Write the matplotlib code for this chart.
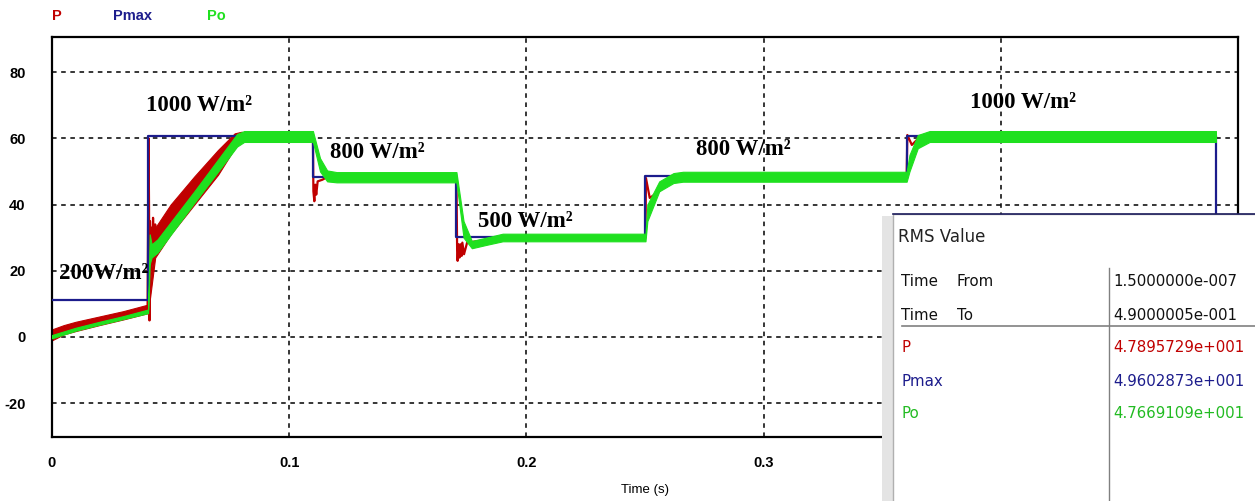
import matplotlib.pyplot as plt
from matplotlib.patches import Rectangle
from matplotlib.lines import Line2D

plt.rcParams["axes.unicode_minus"] = False

# ---- data ----
# Pmax (available max power), step profile
pmax_t = [0, 0.0405, 0.0405, 0.110, 0.110, 0.1705, 0.1705, 0.2502, 0.2502,
          0.3603, 0.3603, 0.4907, 0.4907]
pmax_v = [11.2, 11.2, 60.8, 60.8, 48.3, 48.3, 30.2, 30.2, 48.5, 48.5,
          60.8, 60.8, -40]

# Po (output power), ripple band envelope
po_t = [0, 0.01, 0.02, 0.03, 0.0405, 0.0412, 0.042, 0.0445, 0.06, 0.078,
        0.081, 0.110, 0.113, 0.116, 0.120, 0.1705, 0.1735, 0.177, 0.183,
        0.190, 0.2502, 0.251, 0.256, 0.262, 0.266, 0.3603, 0.3615, 0.365,
        0.370, 0.4907]
po_lo = [-0.4, 1.9, 3.7, 5.4, 7.2, 22, 24, 25.5, 40.5, 57.5,
         58.9, 58.9, 50, 47, 46.7, 46.7, 30, 26.8, 27.8,
         28.9, 28.9, 35, 44, 46.5, 46.9, 46.9, 50, 57, 58.9, 58.9]
po_hi = [0.6, 2.8, 4.6, 6.3, 8.3, 31, 28, 29.5, 44.0, 61.3,
         62.2, 62.2, 54, 50.3, 49.8, 49.8, 35, 29, 30,
         31.2, 31.2, 40, 47, 49.5, 49.9, 49.9, 55, 61, 62.2, 62.2]

# P (PV power) ripple band
p_band_t = [0, 0.005, 0.01, 0.02, 0.03, 0.0405, 0.0435, 0.05, 0.06, 0.07,
            0.077, 0.080]
p_band_lo = [-1.0, 0.8, 1.8, 3.6, 5.3, 7.2, 24, 31, 40, 49, 57, 60]
p_band_hi = [2.3, 3.6, 4.6, 6.2, 7.8, 9.8, 33, 40, 48.5, 56.5, 61.5, 62]

# P transients / spikes
p_t = [0.0403, 0.0407, 0.0409, 0.0411, 0.0413, 0.0416, 0.0419, 0.0422, 0.0426,
       0.043, 0.0435, 0.044, 0.046, 0.081, 0.110, 0.1102, 0.1106, 0.111,
       0.1114, 0.112, 0.114, 0.116, 0.1705, 0.1708, 0.171, 0.1714, 0.1718,
       0.1722, 0.1727, 0.173, 0.1737, 0.175, 0.18, 0.19, 0.2502, 0.2504,
       0.252, 0.256, 0.262, 0.3603, 0.3606, 0.3625, 0.366, 0.4907]
p_v = [9, 60, 40, 5, 35, 20, 33, 22, 36,
       26, 34, 30, 33, 61, 61, 44, 41, 46,
       43, 47, 47.5, 48.3, 48.3, 26, 23, 28, 24,
       28, 24.5, 28.5, 25, 28.5, 29, 30, 30, 48,
       42, 44, 48, 48.5, 61, 58, 60.5, 60.5]

# irradiance annotations (x, y, text)
ann_x = [0.0397, 0.003, 0.1173, 0.1797, 0.2717, 0.387]
ann_y = [70, 19.3, 55.6, 35, 56.5, 70.7]
ann_txt = ["1000 W/m\u00b2", "200W/m\u00b2", "800 W/m\u00b2", "500 W/m\u00b2",
           "800 W/m\u00b2", "1000 W/m\u00b2"]

rms_names = ["P", "Pmax", "Po"]
rms_vals = ["4.7895729e+001", "4.9602873e+001", "4.7669109e+001"]
t_from = "1.5000000e-007"
t_to = "4.9000005e-001"

RED = "#c00000"
BLUE = "#1c1c8c"
GREEN = "#1fe01f"

fig = plt.figure(figsize=(12.55, 5.01), dpi=100)
ax = fig.add_axes([52 / 1255, 64 / 501, 1186 / 1255, 400 / 501])

ax.fill_between(p_band_t, p_band_lo, p_band_hi, color=RED, lw=0.8, zorder=2)
ax.plot(p_t, p_v, color=RED, lw=1.6, zorder=2)
ax.plot(pmax_t, pmax_v, color=BLUE, lw=1.6, zorder=3)
ax.fill_between(po_t, po_lo, po_hi, color=GREEN, lw=0.8, edgecolor=GREEN, zorder=4)

for x, y, s in zip(ann_x, ann_y, ann_txt):
    ax.text(x, y, s, family="Liberation Serif", weight="bold", fontsize=16.5,
            va="center", ha="left", zorder=6)

ax.set_xlim(0, 0.5)
ax.set_ylim(-30.2, 90.6)
ax.set_xticks([0, 0.1, 0.2, 0.3, 0.4])
ax.set_xticklabels(["0", "0.1", "0.2", "0.3", "0.4"])
ax.set_yticks([-20, 0, 20, 40, 60, 80])
ax.tick_params(length=0, labelsize=10.5, pad=19)
ax.tick_params(axis="x", pad=14)
for lab in ax.get_xticklabels() + ax.get_yticklabels():
    lab.set_family("Liberation Sans")
    lab.set_weight("bold")
ax.grid(True, color="black", ls=(0, (3, 3)), lw=1.1)
for sp in ax.spines.values():
    sp.set_linewidth(1.6)
ax.set_xlabel("Time (s)", family="Liberation Sans", fontsize=9.5, labelpad=10)

# legend labels at the top
fig.text(52 / 1255, 1 - 16 / 501, "P", color=RED, fontsize=10.5, weight="bold",
         family="Liberation Sans", va="center")
fig.text(113 / 1255, 1 - 16 / 501, "Pmax", color=BLUE, fontsize=10.5, weight="bold",
         family="Liberation Sans", va="center")
fig.text(207 / 1255, 1 - 16 / 501, "Po", color=GREEN, fontsize=10.5, weight="bold",
         family="Liberation Sans", va="center")

# RMS value box
def fx(px):
    return px / 1255

def fy(py):
    return 1 - py / 501

fig.patches.append(Rectangle((fx(882), 0), fx(12), fy(216), transform=fig.transFigure,
                             facecolor="#e4e4e4", edgecolor="none", zorder=10))
fig.patches.append(Rectangle((fx(893), -0.01), fx(400), fy(214) + 0.01,
                             transform=fig.transFigure, facecolor="white",
                             edgecolor="#b0b0b0", lw=1, zorder=11))
fig.lines.append(Line2D([fx(893), 1], [fy(214), fy(214)], transform=fig.transFigure,
                        color="#1c1c5c", lw=1.2, zorder=12))
fig.lines.append(Line2D([fx(1109), fx(1109)], [fy(268), 0], transform=fig.transFigure,
                        color="#808080", lw=1, zorder=12))
fig.lines.append(Line2D([fx(902), 1], [fy(326), fy(326)], transform=fig.transFigure,
                        color="#808080", lw=1.2, zorder=12))

tk = dict(family="DejaVu Sans", va="center", zorder=13)
fs = 10.8
fig.text(fx(898), fy(237), "RMS Value", fontsize=12, color="#222222", **tk)
fig.text(fx(901), fy(282), "Time", fontsize=fs, color="#111111", **tk)
fig.text(fx(957), fy(282), "From", fontsize=fs, color="#111111", **tk)
fig.text(fx(901), fy(315), "Time", fontsize=fs, color="#111111", **tk)
fig.text(fx(957), fy(315), "To", fontsize=fs, color="#111111", **tk)
fig.text(fx(1113), fy(282), t_from, fontsize=fs, color="#111111", **tk)
fig.text(fx(1113), fy(315), t_to, fontsize=fs, color="#111111", **tk)
row_y = [348, 382, 413]
row_c = [RED, BLUE, "#22bb22"]
for name, val, yy, c in zip(rms_names, rms_vals, row_y, row_c):
    fig.text(fx(901), fy(yy), name, fontsize=fs, color=c, **tk)
    fig.text(fx(1113), fy(yy), val, fontsize=fs, color=c, **tk)

fig.savefig("out.png", dpi=100)
